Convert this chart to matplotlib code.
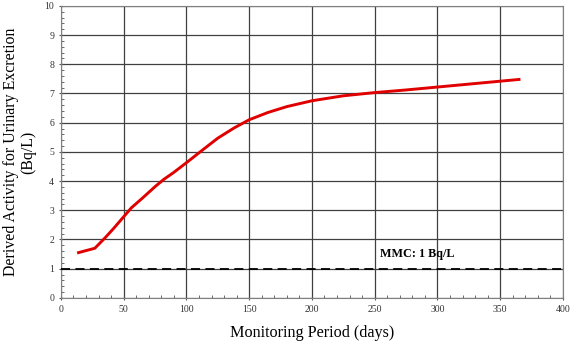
import matplotlib.pyplot as plt
from matplotlib.ticker import MultipleLocator

days = [14, 20, 27, 35, 42, 50, 56, 65, 75, 82, 90, 100, 113, 125, 138, 150, 165, 180, 200, 225, 250, 275, 300, 330, 365]
activity = [1.55, 1.62, 1.70, 2.05, 2.38, 2.78, 3.08, 3.42, 3.81, 4.06, 4.30, 4.63, 5.07, 5.47, 5.82, 6.10, 6.35, 6.55, 6.75, 6.92, 7.03, 7.12, 7.22, 7.34, 7.48]
mmc = 1.0
mmc_label = "MMC: 1 Bq/L"

plt.rcParams['font.family'] = ['Liberation Serif', 'DejaVu Serif']

fig = plt.figure(figsize=(5.75, 3.44), dpi=100)
ax = fig.add_axes([0.106, 0.134, 0.873, 0.849])

ax.plot(days, activity, color='#e00000', linewidth=2.1, zorder=3)
ax.axhline(mmc, color='black', linestyle=(0, (5, 3)), linewidth=1.3, zorder=3)
ax.text(254, mmc + 0.3, mmc_label, fontsize=8.7, fontweight='bold', va='bottom', zorder=4)

ax.set_xlim(0, 400)
ax.set_ylim(0, 10)
ax.xaxis.set_major_locator(MultipleLocator(50))
ax.xaxis.set_minor_locator(MultipleLocator(10))
ax.yaxis.set_major_locator(MultipleLocator(1))
ax.yaxis.set_minor_locator(MultipleLocator(0.2))
ax.grid(True, which='major', color='#404040', linewidth=0.9)
ax.tick_params(which='major', length=3, direction='inout', labelsize=7, colors='#555555', labelcolor='#333333')
ax.tick_params(which='minor', length=2, direction='in', colors='#555555')
for s in ax.spines.values():
    s.set_color('#808080')

ax.set_xlabel('Monitoring Period (days)', fontsize=11.6, labelpad=8)
ax.set_ylabel('Derived Activity for Urinary Excretion\n(Bq/L)', fontsize=11.4, labelpad=6, linespacing=1.1)

fig.savefig('out.png', dpi=100)
